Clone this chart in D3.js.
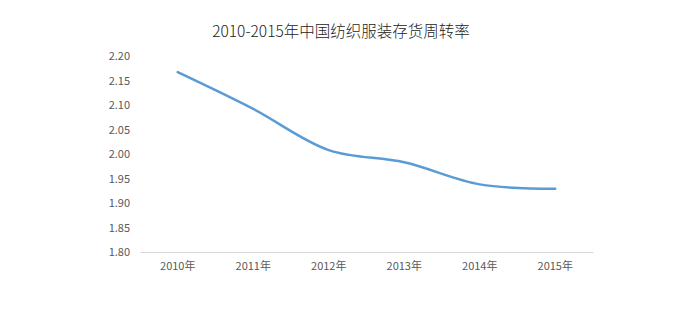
<!DOCTYPE html>
<html>
<head>
<meta charset="utf-8">
<script src="https://cdn.jsdelivr.net/npm/d3@7"></script>
<style>
  body { margin: 0; background: #fff; }
  text { font-family: "Noto Sans CJK SC", "Noto Sans", sans-serif; }
</style>
</head>
<body>
<svg id="chart"></svg>
<script>
const years = ['2010年', '2011年', '2012年', '2013年', '2014年', '2015年'];
const turnover = [2.167, 2.092, 2.008, 1.983, 1.938, 1.929];
const yTicks = [1.80, 1.85, 1.90, 1.95, 2.00, 2.05, 2.10, 2.15, 2.20];
const title = '2010-2015年中国纺织服装存货周转率';

const width = 687, height = 311;
const margin = {top: 56, right: 94, bottom: 59, left: 140};

const svg = d3.select('#chart')
    .attr('width', width)
    .attr('height', height);

svg.append('text')
    .attr('x', 341)
    .attr('y', 37)
    .attr('text-anchor', 'middle')
    .attr('font-size', 15.5)
    .attr('font-weight', 300)
    .attr('fill', '#222')
    .text(title);

const chart = svg.append('g')
    .attr('transform', `translate(${margin.left},${margin.top})`);

const innerW = width - margin.left - margin.right;
const innerH = height - margin.top - margin.bottom;

const x = d3.scaleBand().domain(years).range([0, innerW]);
const y = d3.scaleLinear().domain([1.80, 2.20]).range([innerH, 0]);

// y axis labels only
const yAxis = d3.axisLeft(y).tickValues(yTicks).tickFormat(d3.format('.2f')).tickSize(0).tickPadding(10);
chart.append('g')
    .call(yAxis)
    .call(g => g.select('.domain').remove())
    .selectAll('text')
    .attr('font-size', 11)
    .attr('fill', '#595959');

// x axis
const xAxis = d3.axisBottom(x).tickSize(0).tickPadding(10);
chart.append('g')
    .attr('transform', `translate(0,${innerH})`)
    .call(xAxis)
    .call(g => g.select('.domain').attr('stroke', '#d9d9d9'))
    .selectAll('text')
    .attr('font-size', 11)
    .attr('fill', '#595959');

const line = d3.line()
    .x((d, i) => x(years[i]) + x.bandwidth() / 2)
    .y(d => y(d))
    .curve(d3.curveCatmullRom.alpha(0.5));

chart.append('path')
    .datum(turnover)
    .attr('fill', 'none')
    .attr('stroke', '#5b9bd5')
    .attr('stroke-width', 2.5)
    .attr('stroke-linecap', 'round')
    .attr('stroke-linejoin', 'round')
    .attr('d', line);
</script>
</body>
</html>
